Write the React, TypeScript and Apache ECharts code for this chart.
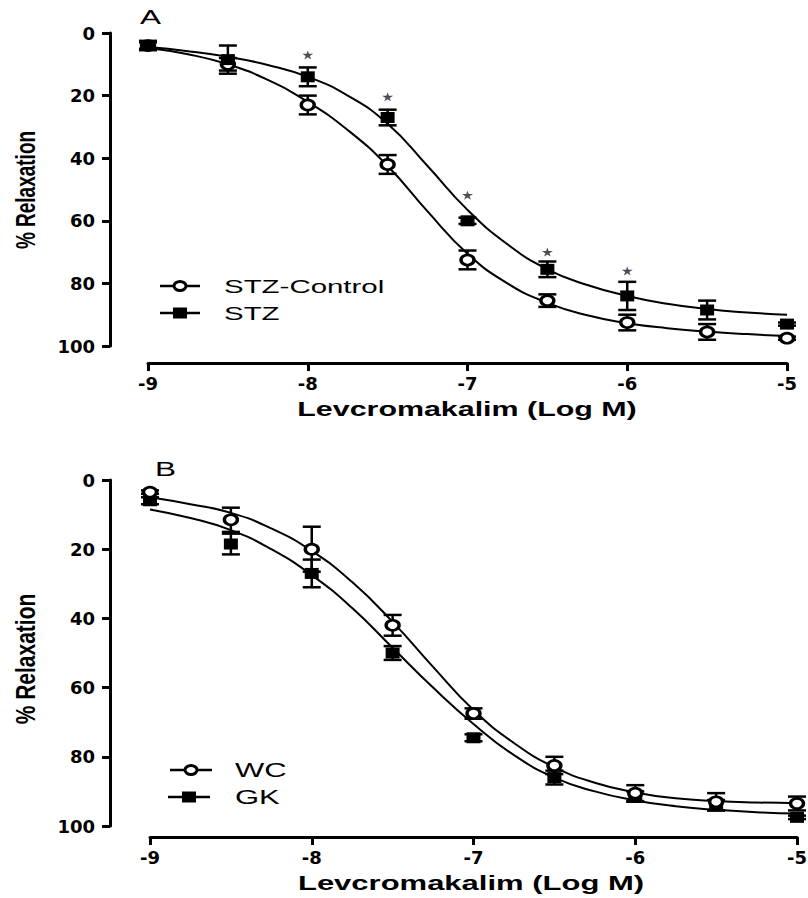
import React, { useEffect, useRef } from 'react';
import * as echarts from 'echarts';

// ---- Data ----
const LOG_DOSE = [-9, -8.5, -8, -7.5, -7, -6.5, -6, -5.5, -5];

// Panel A
const A_CTRL_MEAN = [4, 10, 23, 42, 72.5, 85.5, 92.5, 95.5, 97.5];
const A_CTRL_SEM = [1, 2, 3, 3, 3, 2, 2.5, 2.5, 0.5];
const A_STZ_MEAN = [4, 8.5, 14, 27, 60, 75.5, 84, 88.5, 93];
const A_STZ_SEM = [1.5, 4.5, 3, 2.5, 1, 2.5, 4.5, 3, 0.5];
const A_SIG_DOSE = [-8, -7.5, -7, -6.5, -6];
const A_SIG_POS = [7, 20.4, 51.8, 70, 76];

// Panel B
const B_WC_MEAN = [3.5, 11.5, 20, 42, 67.5, 82.5, 90.5, 93, 93.5];
const B_WC_SEM = [0.5, 3.5, 6.5, 3, 1.5, 2.5, 2.3, 2.5, 2];
const B_GK_MEAN = [6, 18.5, 27, 50, 74.5, 86, 91.5, 94, 97.5];
const B_GK_SEM = [1, 3, 4, 2, 1, 2, 1.5, 1.5, 0.5];

// Fitted curves
const CURVE_X = [-9, -8.75, -8.5, -8.25, -8, -7.75, -7.5, -7.25, -7, -6.75, -6.5, -6.25, -6, -5.75, -5.5, -5.25, -5];
const A_CTRL_FIT = [4.8, 6.8, 10, 15, 22, 31, 42.5, 57, 70.5, 80, 86.2, 90.2, 92.7, 94.3, 95.4, 96.2, 96.8];
const A_STZ_FIT = [4.5, 5.8, 7.6, 10.2, 14, 20, 29, 42.5, 56.5, 67.5, 75.5, 80.5, 84, 86.5, 88.2, 89.3, 90];
const B_WC_FIT = [5, 7, 9.5, 14, 20.5, 29.5, 41, 54, 66.5, 76, 83, 87.5, 90.3, 92, 92.8, 93.2, 93.4];
const B_GK_FIT = [8.5, 11, 14.5, 20, 27.5, 37, 48.5, 60, 70.5, 79.5, 86, 90, 92.6, 94.3, 95.3, 96, 96.4];

const Y_TICKS = [0, 20, 40, 60, 80, 100];
const X_TICKS = [-9, -8, -7, -6, -5];

const SANS = 'Liberation Sans, Arial, sans-serif';
const STAR_PATH = 'path://M50,0 L61,35 L98,35 L68,57 L79,91 L50,70 L21,91 L32,57 L2,35 L39,35 Z';

const errorBarRender = (_params: any, api: any) => {
  const x = api.value(0);
  const m = api.value(1);
  const e = api.value(2);
  const p1 = api.coord([x, m - e]);
  const p2 = api.coord([x, m + e]);
  const hw = 9;
  const style = { stroke: '#000', lineWidth: 2.5, fill: 'none' };
  return {
    type: 'group',
    children: [
      { type: 'line', shape: { x1: p1[0], y1: p1[1], x2: p2[0], y2: p2[1] }, style },
      { type: 'line', shape: { x1: p1[0] - hw, y1: p1[1], x2: p1[0] + hw, y2: p1[1] }, style },
      { type: 'line', shape: { x1: p2[0] - hw, y1: p2[1], x2: p2[0] + hw, y2: p2[1] }, style },
    ],
  };
};

const zip2 = (xs: number[], ys: number[]) => xs.map((x, i) => [x, ys[i]]);
const zip3 = (xs: number[], ys: number[], es: number[]) => xs.map((x, i) => [x, ys[i], es[i]]);

const curveSeries = (name: string, idx: number, ys: number[]) => ({
  name,
  type: 'line',
  xAxisIndex: idx,
  yAxisIndex: idx,
  data: zip2(CURVE_X, ys),
  smooth: true,
  showSymbol: false,
  symbol: 'none',
  lineStyle: { color: '#000', width: 2 },
  z: 2,
  silent: true,
});

const errSeries = (name: string, idx: number, ys: number[], es: number[]) => ({
  name,
  type: 'custom',
  xAxisIndex: idx,
  yAxisIndex: idx,
  data: zip3(LOG_DOSE, ys, es),
  renderItem: errorBarRender,
  clip: false,
  z: 3,
  silent: true,
});

const circleSeries = (name: string, idx: number, ys: number[], z: number) => ({
  name,
  type: 'scatter',
  xAxisIndex: idx,
  yAxisIndex: idx,
  data: zip2(LOG_DOSE, ys),
  symbol: 'circle',
  symbolSize: [13, 10],
  itemStyle: { color: '#fff', borderColor: '#000', borderWidth: 3, opacity: 1 },
  z,
  silent: true,
});

const squareSeries = (name: string, idx: number, ys: number[], z: number) => ({
  name,
  type: 'scatter',
  xAxisIndex: idx,
  yAxisIndex: idx,
  data: zip2(LOG_DOSE, ys),
  symbol: 'rect',
  symbolSize: [14, 11],
  itemStyle: { color: '#000', opacity: 1 },
  z,
  silent: true,
});

const axisCommon = {
  axisLine: { show: true, onZero: false, lineStyle: { color: '#000', width: 3 } },
  axisTick: { show: true, length: 8, lineStyle: { color: '#000', width: 3 } },
  splitLine: { show: false },
};

const xAxisFor = (idx: number, visible: boolean) => ({
  type: 'value',
  gridIndex: idx,
  show: visible,
  min: X_TICKS[0],
  max: X_TICKS[X_TICKS.length - 1],
  interval: 1,
  ...axisCommon,
  axisLabel: { color: '#000', fontFamily: 'DejaVu Sans', fontWeight: 'bold', fontSize: 18, margin: 11 },
});

const yAxisFor = (idx: number, visible: boolean) => ({
  type: 'value',
  gridIndex: idx,
  show: visible,
  inverse: true,
  min: Y_TICKS[0],
  max: Y_TICKS[Y_TICKS.length - 1],
  interval: 20,
  ...axisCommon,
  axisLabel: { color: '#000', fontFamily: 'DejaVu Sans', fontWeight: 'bold', fontSize: 18, margin: 15 },
});

const txt = (text: string, x: number, y: number, opts: any = {}) => ({
  type: 'text',
  x,
  y,
  rotation: opts.rotation || 0,
  scaleX: opts.scaleX || 1,
  scaleY: opts.scaleY || 1,
  style: {
    text,
    fill: '#000',
    fontFamily: SANS,
    fontSize: opts.fontSize || 19,
    fontWeight: opts.bold ? 'bold' : 'normal',
    align: opts.align || 'left',
    verticalAlign: 'middle',
  },
});

const legendItem = (kind: 'circle' | 'square', x1: number, x2: number, y: number) => {
  const cx = (x1 + x2) / 2;
  const line = { type: 'line', shape: { x1, y1: y, x2, y2: y }, style: { stroke: '#000', lineWidth: 2.5 } };
  const marker =
    kind === 'circle'
      ? { type: 'ellipse', shape: { cx, cy: y, rx: 6, ry: 4.5 }, style: { fill: '#fff', stroke: '#000', lineWidth: 3 } }
      : { type: 'rect', shape: { x: cx - 7, y: y - 5.5, width: 14, height: 11 }, style: { fill: '#000' } };
  return [line, marker];
};

const g = (left: number, top: number, width: number, height: number) => ({
  left, top, width, height, containLabel: false, outerBoundsMode: 'none',
});

export default function App() {
  const ref = useRef<HTMLDivElement>(null);

  useEffect(() => {
    if (!ref.current) return;
    const chart = echarts.init(ref.current, null, { renderer: 'svg' });
    const option: any = {
      animation: false,
      backgroundColor: '#fff',
      grid: [
        g(148, 33, 639, 313), // 0: panel A plot area
        g(148, 33, 639, 330), // 1: panel A x axis (offset below)
        g(110, 33, 677, 313), // 2: panel A y axis (offset left)
        g(150, 480, 647, 346), // 3: panel B plot area
        g(150, 480, 647, 357), // 4: panel B x axis
        g(110, 480, 687, 346), // 5: panel B y axis
      ],
      xAxis: [
        xAxisFor(0, false), xAxisFor(1, true), xAxisFor(2, false),
        xAxisFor(3, false), xAxisFor(4, true), xAxisFor(5, false),
      ],
      yAxis: [
        yAxisFor(0, false), yAxisFor(1, false), yAxisFor(2, true),
        yAxisFor(3, false), yAxisFor(4, false), yAxisFor(5, true),
      ],
      series: [
        curveSeries('STZ-Control fit', 0, A_CTRL_FIT),
        curveSeries('STZ fit', 0, A_STZ_FIT),
        errSeries('STZ-Control SEM', 0, A_CTRL_MEAN, A_CTRL_SEM),
        errSeries('STZ SEM', 0, A_STZ_MEAN, A_STZ_SEM),
        circleSeries('STZ-Control', 0, A_CTRL_MEAN, 4),
        squareSeries('STZ', 0, A_STZ_MEAN, 5),
        {
          name: 'P < 0.05',
          type: 'scatter',
          xAxisIndex: 0,
          yAxisIndex: 0,
          data: zip2(A_SIG_DOSE, A_SIG_POS),
          symbol: STAR_PATH,
          symbolSize: [11, 9],
          itemStyle: { color: '#22222e' },
          z: 6,
          silent: true,
        },
        curveSeries('WC fit', 3, B_WC_FIT),
        curveSeries('GK fit', 3, B_GK_FIT),
        errSeries('WC SEM', 3, B_WC_MEAN, B_WC_SEM),
        errSeries('GK SEM', 3, B_GK_MEAN, B_GK_SEM),
        squareSeries('GK', 3, B_GK_MEAN, 4),
        circleSeries('WC', 3, B_WC_MEAN, 5),
      ],
      graphic: [
        txt('A', 140, 17, { fontSize: 21, scaleX: 1.5 }),
        txt('B', 155, 469, { fontSize: 21, scaleX: 1.5 }),
        txt('% Relaxation', 26, 190, { fontSize: 19, bold: true, rotation: Math.PI / 2, scaleY: 1.45, align: 'center' }),
        txt('% Relaxation', 25, 659, { fontSize: 21, bold: true, rotation: Math.PI / 2, scaleY: 1.35, align: 'center' }),
        txt('Levcromakalim (Log M)', 467, 409, { fontSize: 20, bold: true, scaleX: 1.52, align: 'center' }),
        txt('Levcromakalim (Log M)', 471, 883, { fontSize: 20, bold: true, scaleX: 1.55, align: 'center' }),
        ...legendItem('circle', 160, 200, 286),
        ...legendItem('square', 160, 200, 313),
        txt('STZ-Control', 224, 286, { fontSize: 19, scaleX: 1.55 }),
        txt('STZ', 224, 313, { fontSize: 19, scaleX: 1.55 }),
        ...legendItem('circle', 170, 212, 770),
        ...legendItem('square', 168, 210, 797),
        txt('WC', 235, 770, { fontSize: 20, scaleX: 1.55 }),
        txt('GK', 235, 797, { fontSize: 20, scaleX: 1.55 }),
      ],
    };
    chart.setOption(option);
    return () => chart.dispose();
  }, []);

  return <div ref={ref} style={{ position: 'absolute', left: 0, top: 0, width: 808, height: 898 }} />;
}
